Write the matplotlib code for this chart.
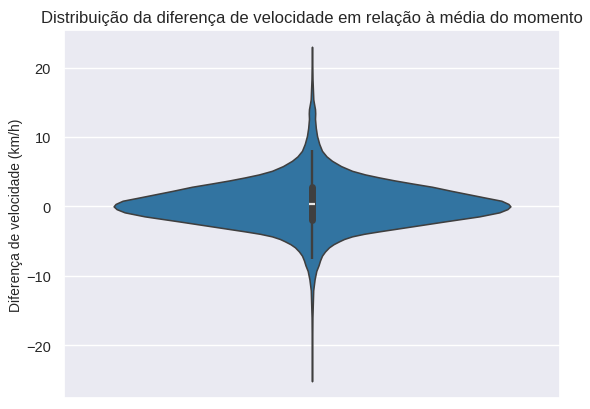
import matplotlib
matplotlib.use("Agg")
import matplotlib.pyplot as plt
import seaborn as sns
import numpy as np

sns.set_theme(style="darkgrid")
plt.rcParams['font.family'] = ['Liberation Sans', 'DejaVu Sans']

# Violin outline: value (km/h) -> half-width in pixels (max = 198)
valores = [-25.2, -20.0, -16.0, -12.1, -10.5, -9.3, -8.5, -7.8, -7.1, -6.5, -5.9, -5.45,
           -5.04, -4.7, -4.32, -3.95, -3.6, -2.88, -2.16, -1.44, -0.86, -0.4, 0.0,
           0.35, 0.81, 1.29, 2.24, 2.82, 3.3, 3.75, 4.17, 4.6, 5.12, 5.8, 6.56, 7.2,
           8.0, 9.0, 10.16, 11.3, 12.6, 13.4, 14.0, 14.8, 15.4, 18.3, 23.0]
meia_largura = [0.0, 0.2, 0.4, 1.2, 2.6, 4.3, 6.5, 8.0, 10.0, 13.0, 17.0, 21.5,
                27.0, 32.0, 40.0, 52.0, 67.0, 100.0, 133.0, 167.0, 187.0, 195.0, 198.0,
                196.0, 189.0, 172.0, 139.0, 120.0, 100.0, 82.0, 67.0, 53.0, 40.0, 29.0, 20.0, 14.5,
                10.0, 7.2, 5.0, 3.8, 3.0, 3.2, 3.0, 2.0, 1.3, 0.5, 0.0]

# Box statistics
whisker_baixo = -7.58
q1 = -1.93
mediana = 0.33
q3 = 2.82
whisker_alto = 8.14

titulo = "Distribuição da diferença de velocidade em relação à média do momento"
rotulo_y = "Diferença de velocidade (km/h)"

fig = plt.figure(figsize=(5.9, 4.1), dpi=100)
ax = fig.add_axes([64/590, 11/410, 496/590, 368/410])

v = np.array(valores)
w = np.array(meia_largura) / 198.0 * 0.4
ax.fill_betweenx(v, -w, w, facecolor="#3274a1", edgecolor="#3f3f3f", linewidth=1.125,
                 joinstyle="round", zorder=2)

ax.plot([0, 0], [whisker_baixo, whisker_alto], color="#3f3f3f", lw=1.7,
        solid_capstyle="butt", zorder=3)
ax.plot([0, 0], [q1, q3], color="#3f3f3f", lw=5.0, solid_capstyle="round", zorder=4)
ax.plot([-0.006, 0.006], [mediana, mediana], color="#e6e6e6", lw=1.6,
        solid_capstyle="butt", zorder=5)

ax.set_xlim(-0.5, 0.5)
ax.margins(y=0.05)
ax.set_xticks([])
ax.set_yticks([-20, -10, 0, 10, 20])
ax.tick_params(axis="y", labelsize=10.5)
ax.set_title(titulo, fontsize=12)
ax.set_ylabel(rotulo_y, fontsize=10, labelpad=2)

fig.savefig("out.png", dpi=100)
